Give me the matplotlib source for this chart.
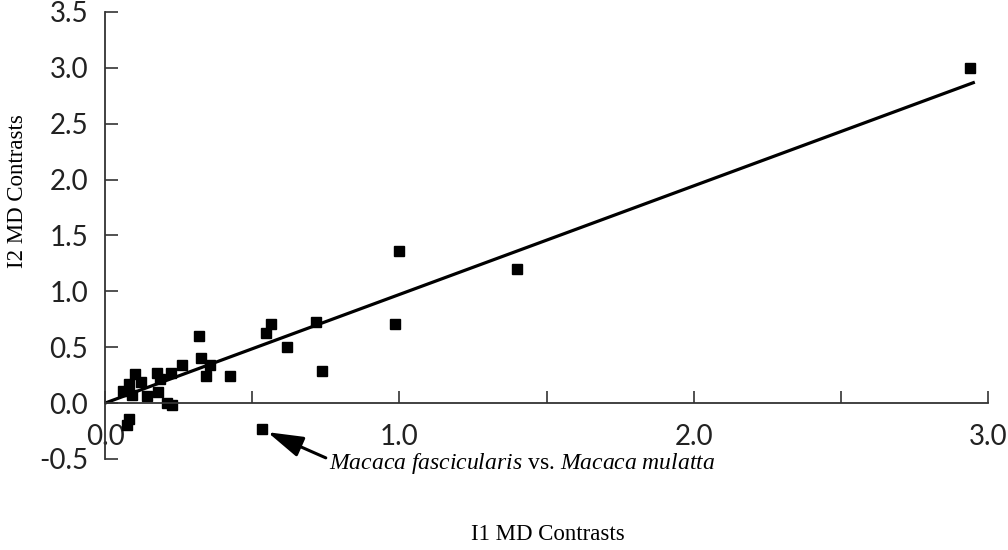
import matplotlib
matplotlib.use('Agg')
import numpy as np
from matplotlib import pyplot as plt
from matplotlib.ticker import FixedLocator, FixedFormatter

# I1 and I2 MD contrasts
i1 = [2.94, 1.40, 1.00, 0.986, 0.718, 0.738, 0.565, 0.548, 0.619, 0.425,
      0.32, 0.325, 0.355, 0.343, 0.262, 0.223, 0.177, 0.186, 0.102, 0.122,
      0.08, 0.062, 0.09, 0.144, 0.179, 0.212, 0.228, 0.08, 0.074, 0.533]
i2 = [3.0, 1.20, 1.36, 0.71, 0.73, 0.29, 0.71, 0.63, 0.50, 0.24,
      0.60, 0.40, 0.34, 0.24, 0.34, 0.27, 0.27, 0.22, 0.256, 0.19,
      0.17, 0.11, 0.07, 0.06, 0.10, 0.0, -0.02, -0.14, -0.20, -0.23]
slope = 0.972
fit_x = [0.0, 2.95]

x_ticks = [0.0, 0.5, 1.0, 1.5, 2.0, 2.5, 3.0]
x_labels = ['0.0', '', '1.0', '', '2.0', '', '3.0']
y_ticks = [-0.5, 0.0, 0.5, 1.0, 1.5, 2.0, 2.5, 3.0, 3.5]
y_labels = ['-0.5', '0.0', '0.5', '1.0', '1.5', '2.0', '2.5', '3.0', '3.5']

plt.rcParams['mathtext.fontset'] = 'custom'
plt.rcParams['mathtext.it'] = 'Liberation Serif:italic'
plt.rcParams['mathtext.rm'] = 'Liberation Serif'

fig = plt.figure(figsize=(10.08, 5.5), dpi=100)
ax = fig.add_axes([0.1042, 0.1655, 0.876, 0.8127])

ax.plot(i1, i2, 's', color='black', markersize=6.5)
ax.plot(fit_x, [slope * v for v in fit_x], color='black', lw=2.3)

ax.set_xlim(0, 3.0)
ax.set_ylim(-0.5, 3.5)
ax.spines['top'].set_visible(False)
ax.spines['right'].set_visible(False)
ax.spines['bottom'].set_position(('data', 0))
for s in ['left', 'bottom']:
    ax.spines[s].set_color('#333333')
    ax.spines[s].set_linewidth(1.3)

ax.xaxis.set_major_locator(FixedLocator(x_ticks))
ax.xaxis.set_major_formatter(FixedFormatter(x_labels))
ax.yaxis.set_major_locator(FixedLocator(y_ticks))
ax.yaxis.set_major_formatter(FixedFormatter(y_labels))
ax.tick_params(axis='x', direction='in', length=9, width=1.2, color='#333333',
               pad=15, labelsize=20)
ax.tick_params(axis='y', direction='in', length=9, width=1.2, color='#333333',
               pad=12, labelsize=20)
for lab in ax.get_xticklabels() + ax.get_yticklabels():
    lab.set_family('Lato')
    lab.set_color('#222222')

# arrow to the M. fascicularis vs. M. mulatta contrast
ax.annotate('', xy=(0.552, -0.26), xytext=(0.75, -0.49),
            arrowprops=dict(arrowstyle='-|>,head_length=1.45,head_width=0.43',
                            mutation_scale=15, color='black', lw=2.2,
                            shrinkA=0, shrinkB=0))
ax.text(0.76, -0.54,
        r'$\mathit{Macaca\ fascicularis}$ vs. $\mathit{Macaca\ mulatta}$',
        family='Liberation Serif', fontsize=17, ha='left', va='center')

fig.text(18 / 1008, 1 - 191 / 550, 'I2 MD Contrasts', rotation=90,
         family='Liberation Serif', fontsize=16.5, ha='center', va='center')
fig.text(548 / 1008, 1 - 535 / 550, 'I1 MD Contrasts',
         family='Liberation Serif', fontsize=16.5, ha='center', va='center')

fig.savefig('out.png', dpi=100)
